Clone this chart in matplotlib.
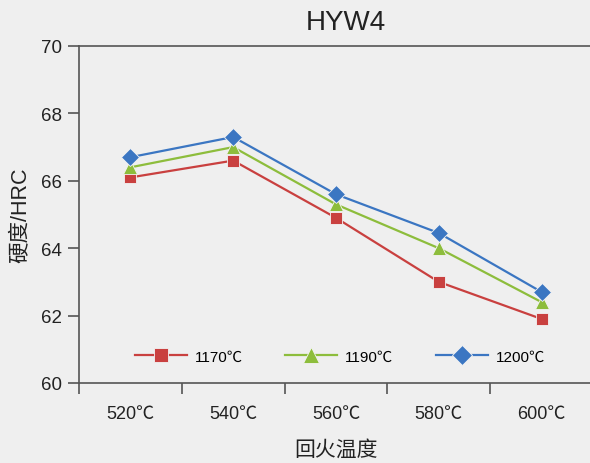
import matplotlib
matplotlib.use("Agg")
import matplotlib.pyplot as plt
from matplotlib.ticker import FixedLocator, NullFormatter

plt.rcParams["font.family"] = ["Liberation Sans", "Noto Sans CJK SC", "DejaVu Sans"]

# data
temps = ["520℃", "540℃", "560℃", "580℃", "600℃"]
series_names = ["1170℃", "1190℃", "1200℃"]
hrc_1170 = [66.1, 66.6, 64.9, 63.0, 61.9]
hrc_1190 = [66.4, 67.0, 65.3, 64.0, 62.4]
hrc_1200 = [66.7, 67.3, 65.6, 64.45, 62.7]

BG = "#efefef"
AXC = "#555555"
styles = [
    dict(color="#c9403f", marker="s", ms=9),
    dict(color="#8dbd3c", marker="^", ms=10),
    dict(color="#3b76c2", marker="D", ms=9),
]

fig = plt.figure(figsize=(5.9, 4.64), dpi=100, facecolor=BG)
ax = fig.add_axes([79 / 590, 80 / 464, 514 / 590, 337 / 464], facecolor=BG)

x = list(range(len(temps)))
for vals, name, st in zip([hrc_1170, hrc_1190, hrc_1200], series_names, styles):
    ax.plot(x, vals, color=st["color"], lw=1.6, marker=st["marker"],
            markersize=st["ms"], markerfacecolor=st["color"],
            markeredgecolor="#f4f4f4", markeredgewidth=0.6, label=name,
            clip_on=False, zorder=3)

ax.set_xlim(-0.5, len(temps) - 0.5)
ax.set_ylim(60, 70)
ax.set_yticks([60, 62, 64, 66, 68, 70])

# category boundaries as tick marks, labels at centres
ax.xaxis.set_major_locator(FixedLocator([i - 0.5 for i in range(len(temps) + 1)]))
ax.xaxis.set_major_formatter(NullFormatter())
ax.xaxis.set_minor_locator(FixedLocator(x))
ax.set_xticklabels(temps, minor=True)
ax.tick_params(axis="x", which="major", direction="out", length=8, width=1.2, color=AXC)
ax.tick_params(axis="x", which="minor", length=0, pad=16, labelsize=13, labelcolor="#222222")
ax.tick_params(axis="y", direction="out", length=8, width=1.2, color=AXC,
               labelsize=13.5, labelcolor="#222222", pad=4)

for side in ("left", "bottom", "top", "right"):
    ax.spines[side].set_color(AXC)
    ax.spines[side].set_linewidth(1.2)

ax.set_title("HYW4", fontsize=20, color="#222222", pad=12, x=0.52)
ax.set_xlabel("回火温度", fontsize=15, color="#222222", labelpad=12)
ax.set_ylabel("硬度/HRC", fontsize=15.5, color="#222222", labelpad=7)

ax.legend(loc="center left", bbox_to_anchor=((135 - 79) / 514, 0.078), ncol=3,
          frameon=False, fontsize=11, handlelength=3.4, handletextpad=0.5,
          columnspacing=2.8, borderpad=0, borderaxespad=0, markerscale=1.1)

fig.savefig("out.png", dpi=100, facecolor=BG)
